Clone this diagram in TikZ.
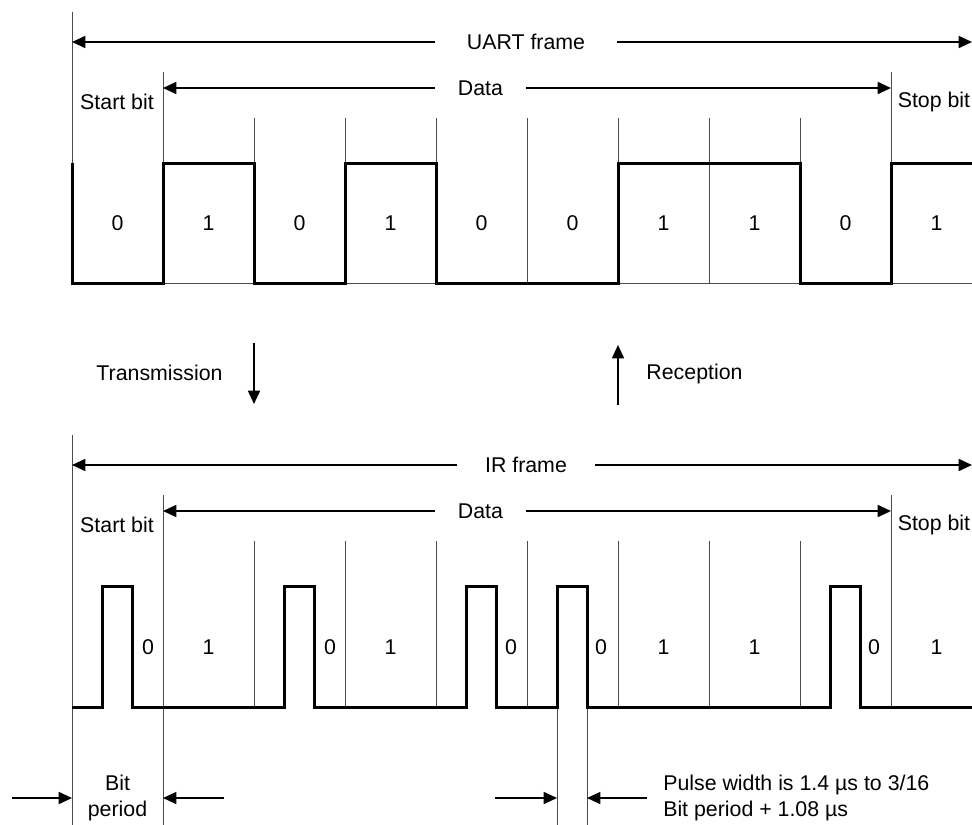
\documentclass[tikz,border=0pt]{standalone}
\usepackage{fontspec}
\setmainfont{Liberation Sans}
\usetikzlibrary{arrows.meta,positioning}

\begin{document}
\begin{tikzpicture}[x=0.75pt, y=-0.75pt,
    txt/.style={font=\fontsize{16pt}{19pt}\selectfont, inner sep=0pt},
    bitline/.style={draw=black!70, line width=0.75pt},
    wave/.style={line width=2.25pt, line join=miter},
    arr/.style={-{Triangle[length=10pt, width=9pt]}, line width=1.3pt}
]
\useasboundingbox (0,0) rectangle (972,825);

% UART frame (top)
\draw[bitline] (72,12) -- (72,283);
\draw[bitline] (163,72) -- (163,283);
\draw[bitline] (891,72) -- (891,283);
\foreach \x in {254,345,...,800}
    \draw[bitline] (\x,118) -- (\x,283);
\draw[bitline] (72,283) -- (972,283);
\draw[wave] (72,163) -- (72,283) -- (163,283) -- (163,163) -- (254,163) -- (254,283)
    -- (345,283) -- (345,163) -- (436,163) -- (436,283) -- (618,283) -- (618,163)
    -- (800,163) -- (800,283) -- (891,283) -- (891,163) -- (972,163);

\node[txt, minimum width=136.5pt] (uart) at (526,42) {UART frame};
\coordinate (uartL) at (72,42);
\coordinate (uartR) at (972,42);
\draw[arr] (uart) -- (uartL);
\draw[arr] (uart) -- (uartR);

\node[txt, minimum width=68.25pt] (udata) at (480.5,88) {Data};
\coordinate (udataL) at (163,88);
\coordinate (udataR) at (891,88);
\draw[arr] (udata) -- (udataL);
\draw[arr] (udata) -- (udataR);

\node[txt] (ustart) at (117,102) {Start bit};
\node[txt] (ustop) at (934,102) {Stop bit};

\node[txt] (u0) at (117.5,223) {0};
\node[txt] (u1) at (208.5,223) {1};
\node[txt] (u2) at (299.5,223) {0};
\node[txt] (u3) at (390.5,223) {1};
\node[txt] (u4) at (481.5,223) {0};
\node[txt] (u5) at (572.5,223) {0};
\node[txt] (u6) at (663.5,223) {1};
\node[txt] (u7) at (754.5,223) {1};
\node[txt] (u8) at (845.5,223) {0};
\node[txt] (u9) at (936.5,223) {1};

% direction
\node[txt] (tx) at (159.5,373) {Transmission};
\coordinate (txA) at (254,343);
\coordinate (txB) at (254,404);
\draw[arr] (txA) -- (txB);
\node[txt] (rx) at (694.5,374) {Reception};
\coordinate (rxA) at (618,405);
\coordinate (rxB) at (618,345);
\draw[arr] (rxA) -- (rxB);

% IR frame (bottom)
\draw[bitline] (72,435) -- (72,825);
\draw[bitline] (163,495) -- (163,825);
\draw[bitline] (891,495) -- (891,707);
\foreach \x in {254,345,...,800}
    \draw[bitline] (\x,541) -- (\x,707);
\draw[bitline] (557,707) -- (557,825);
\draw[bitline] (587,707) -- (587,825);
\draw[wave] (72,707) -- (102.5,707) -- (102.5,586) -- (132.5,586) -- (132.5,707)
    -- (284.5,707) -- (284.5,586) -- (314.5,586) -- (314.5,707)
    -- (466.5,707) -- (466.5,586) -- (496.5,586) -- (496.5,707)
    -- (557,707) -- (557,586) -- (587,586) -- (587,707)
    -- (830.5,707) -- (830.5,586) -- (860.5,586) -- (860.5,707) -- (972,707);

\node[txt, minimum width=103.5pt] (ir) at (526,465) {IR frame};
\coordinate (irL) at (72,465);
\coordinate (irR) at (972,465);
\draw[arr] (ir) -- (irL);
\draw[arr] (ir) -- (irR);

\node[txt, minimum width=68.25pt] (idata) at (480.5,511) {Data};
\coordinate (idataL) at (163,511);
\coordinate (idataR) at (891,511);
\draw[arr] (idata) -- (idataL);
\draw[arr] (idata) -- (idataR);

\node[txt] (istart) at (117,525) {Start bit};
\node[txt] (istop) at (934,525) {Stop bit};

\node[txt] (i0) at (148,647) {0};
\node[txt] (i1) at (208.5,647) {1};
\node[txt] (i2) at (330,647) {0};
\node[txt] (i3) at (390.5,647) {1};
\node[txt] (i4) at (511,647) {0};
\node[txt] (i5) at (601,647) {0};
\node[txt] (i6) at (663.5,647) {1};
\node[txt] (i7) at (754.5,647) {1};
\node[txt] (i8) at (874,647) {0};
\node[txt] (i9) at (936.5,647) {1};

% bit period and pulse width
\node[txt, align=center] (bitper) at (117.5,798) {Bit\\period};
\coordinate (bpL) at (12,798);
\coordinate (bpA) at (72,798);
\coordinate (bpR) at (224,798);
\coordinate (bpB) at (163,798);
\draw[arr] (bpL) -- (bpA);
\draw[arr] (bpR) -- (bpB);

\node[txt, align=left, anchor=west] (pulse) at (663,798) {Pulse width is 1.4 µs to 3/16\\Bit period + 1.08 µs};
\coordinate (pwL) at (495,798);
\coordinate (pwA) at (557,798);
\coordinate (pwR) at (647,798);
\coordinate (pwB) at (587,798);
\draw[arr] (pwL) -- (pwA);
\draw[arr] (pwR) -- (pwB);
\end{tikzpicture}
\end{document}
